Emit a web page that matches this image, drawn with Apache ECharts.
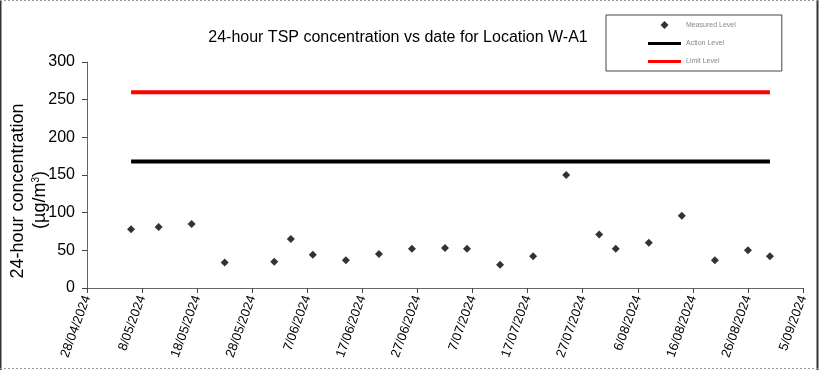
<!DOCTYPE html>
<html>
<head>
<meta charset="utf-8">
<script src="https://cdn.jsdelivr.net/npm/echarts@6/dist/echarts.min.js"></script>
<style>html,body{margin:0;padding:0;background:#fff}#c{width:819px;height:370px}</style>
</head>
<body>
<div id="c"></div>
<script>
// ---- data ----
var measuredDates = ['2024-05-06','2024-05-11','2024-05-17','2024-05-23','2024-06-01','2024-06-04','2024-06-08','2024-06-14','2024-06-20','2024-06-26','2024-07-02','2024-07-06','2024-07-12','2024-07-18','2024-07-24','2024-07-30','2024-08-02','2024-08-08','2024-08-14','2024-08-20','2024-08-26','2024-08-30'];
var measuredValues = [78, 81, 85, 34, 35, 65, 44, 37, 45, 52, 53, 52, 31, 42, 150, 71, 52, 60, 96, 37, 50, 42];
var actionLevel = 168;
var limitLevel = 260;
var axisStartDate = '2024-04-28';
var axisEndDate = '2024-09-05';
var seriesNames = ['Measured Level', 'Action Level', 'Limit Level'];
var yTicks = [0, 50, 100, 150, 200, 250, 300];
var yTitleLine1 = '24-hour concentration';
var yTitleLine2 = '(µg/m{sup|3})';

// ---- helpers ----
var DAY = 86400000;
function ms(s){ var p = s.split('-'); return Date.UTC(+p[0], +p[1]-1, +p[2]); }
var base = ms(axisStartDate);
function dayOf(s){ return Math.round((ms(s) - base) / DAY); }
function fmt(d){
  var t = new Date(base + d * DAY);
  var mm = t.getUTCMonth() + 1;
  return t.getUTCDate() + '/' + (mm < 10 ? '0' + mm : mm) + '/' + t.getUTCFullYear();
}
var xMax = dayOf(axisEndDate);
var firstDay = dayOf(measuredDates[0]);
var lastDay = dayOf(measuredDates[measuredDates.length - 1]);

var chart = echarts.init(document.getElementById('c'), null, {renderer: 'canvas'});
var font = '"Liberation Sans", Arial, Helvetica, sans-serif';
var lineIcon = 'path://M0,0 L33,0 L33,3 L0,3 Z';
chart.setOption({
  backgroundColor: '#fff',
  animation: false,
  title: {
    text: '24-hour TSP concentration vs date for Location W-A1',
    left: 393, top: 25, textAlign: 'center',
    textStyle: {fontFamily: font, fontSize: 16, fontWeight: 'normal', color: '#000'}
  },
  legend: {
    left: 606, top: 15,
    orient: 'vertical',
    padding: [6, 46, 6, 42],
    itemWidth: 33, itemHeight: 8, itemGap: 11,
    borderColor: '#444', borderWidth: 1,
    symbolKeepAspect: true,
    textStyle: {fontFamily: font, fontSize: 7, color: '#888'},
    data: [
      {name: seriesNames[0], icon: 'path://M0,3 L3,0 L6,3 L3,6 Z', itemStyle: {color: '#000'}},
      {name: seriesNames[1], icon: lineIcon, itemStyle: {color: '#000'}},
      {name: seriesNames[2], icon: lineIcon, itemStyle: {color: '#ff0000'}}
    ]
  },
  grid: {left: 87, right: 16, top: 62, bottom: 82, containLabel: false, outerBoundsMode: 'none'},
  xAxis: {
    type: 'value', min: 0, max: xMax, interval: 10,
    axisLine: {show: true, lineStyle: {color: '#666', width: 1}},
    axisTick: {show: true, length: 5, lineStyle: {color: '#444'}},
    splitLine: {show: false},
    axisLabel: {
      rotate: 70, margin: 8, fontFamily: font, fontSize: 13, color: '#000',
      formatter: function(v){ return fmt(v); }
    }
  },
  yAxis: {
    type: 'value', min: yTicks[0], max: yTicks[yTicks.length-1], interval: yTicks[1]-yTicks[0],
    axisLine: {show: true, lineStyle: {color: '#666', width: 1}},
    axisTick: {show: true, length: 5, lineStyle: {color: '#444'}},
    splitLine: {show: false},
    axisLabel: {margin: 12, fontFamily: font, fontSize: 16, color: '#000'}
  },
  series: [
    {
      name: seriesNames[0], type: 'scatter', symbol: 'diamond', symbolSize: 8,
      itemStyle: {color: '#000'},
      data: measuredDates.map(function(d, i){ return [dayOf(d), measuredValues[i]]; })
    },
    {
      name: seriesNames[1], type: 'line', symbol: 'none', showSymbol: false,
      lineStyle: {color: '#000', width: 4}, itemStyle: {color: '#000'},
      data: [[firstDay, actionLevel], [lastDay, actionLevel]]
    },
    {
      name: seriesNames[2], type: 'line', symbol: 'none', showSymbol: false,
      lineStyle: {color: '#ff0000', width: 4}, itemStyle: {color: '#ff0000'},
      data: [[firstDay, limitLevel], [lastDay, limitLevel]]
    }
  ],
  graphic: [
    {type: 'text', x: 18, y: 191, rotation: Math.PI / 2,
     style: {text: yTitleLine1, align: 'center', verticalAlign: 'middle', fontFamily: font, fontSize: 18, fill: '#000'}},
    {type: 'text', x: 40, y: 200, rotation: Math.PI / 2,
     style: {text: yTitleLine2, align: 'center', verticalAlign: 'middle', fontFamily: font, fontSize: 18, fill: '#000',
       rich: {sup: {fontFamily: font, fontSize: 10, fill: '#000', verticalAlign: 'top', padding: [0, 0, 8, 0]}}}},
    {type: 'line', shape: {x1: 0.5, y1: 0, x2: 0.5, y2: 370}, style: {stroke: '#333', lineWidth: 2}},
    {type: 'line', shape: {x1: 817.5, y1: 0, x2: 817.5, y2: 370}, style: {stroke: '#333', lineWidth: 2}},
    {type: 'line', shape: {x1: 0, y1: 0.5, x2: 819, y2: 0.5}, style: {stroke: '#999', lineWidth: 1, lineDash: [2, 2]}},
    {type: 'line', shape: {x1: 0, y1: 368.5, x2: 819, y2: 368.5}, style: {stroke: '#999', lineWidth: 1, lineDash: [2, 2]}}
  ]
});
</script>
</body>
</html>
